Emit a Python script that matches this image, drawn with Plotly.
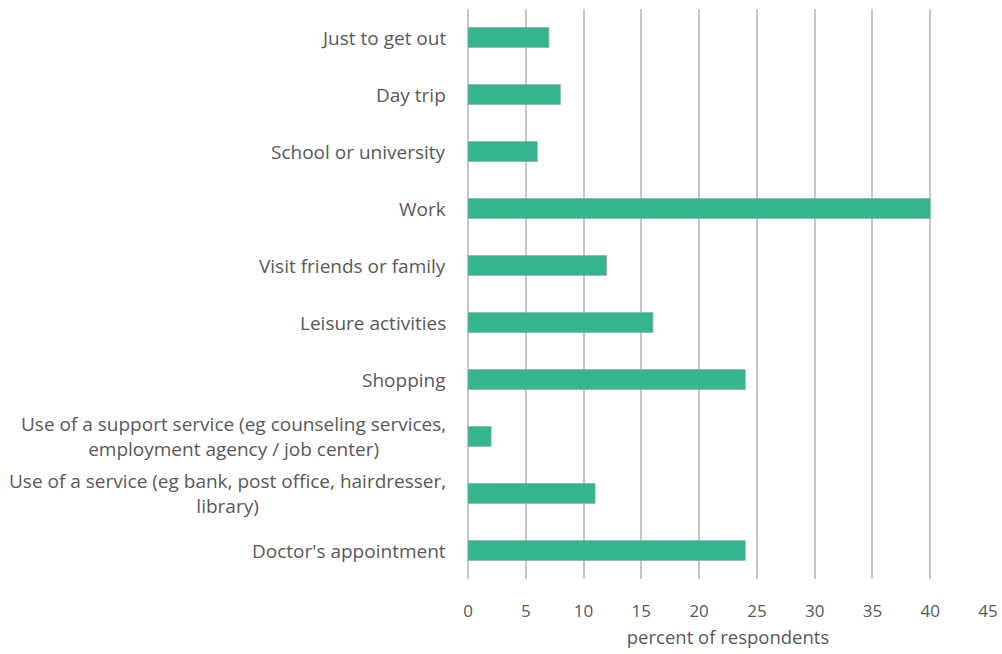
import plotly.graph_objects as go

categories = [
    "Doctor's appointment",
    "Use of a service (eg bank, post office, hairdresser,<br>library)",
    "Use of a support service (eg counseling services,<br>employment agency / job center)",
    "Shopping",
    "Leisure activities",
    "Visit friends or family",
    "Work",
    "School or university",
    "Day trip",
    "Just to get out",
]
values = [24, 11, 2, 24, 16, 12, 40, 6, 8, 7]
tick_vals = [0, 5, 10, 15, 20, 25, 30, 35, 40, 45]

font_family = "'Open Sans', sans-serif"
text_color = "#595959"

fig = go.Figure(
    go.Bar(
        x=values,
        y=categories,
        orientation="h",
        marker=dict(color="#35B490", line=dict(color="#8fa8a0", width=0.6)),
        hoverinfo="x+y",
    )
)

fig.update_layout(
    width=1002,
    height=654,
    margin=dict(l=468, r=14, t=9, b=75, autoexpand=False),
    paper_bgcolor="white",
    plot_bgcolor="white",
    bargap=0.65,
    showlegend=False,
    font=dict(family=font_family, color=text_color, size=17),
)

fig.update_xaxes(
    range=[0, 45],
    tickvals=tick_vals,
    ticktext=[str(v) for v in tick_vals],
    showgrid=True,
    gridcolor="#c6c6c6",
    gridwidth=1.5,
    zeroline=True,
    zerolinecolor="#c6c6c6",
    zerolinewidth=1.5,
    ticks="",
    ticklabelstandoff=20,
    tickfont=dict(size=17, color=text_color, family=font_family),
    title=dict(text="percent of respondents", font=dict(size=18.5, color=text_color, family=font_family), standoff=10),
    automargin=False,
    fixedrange=True,
)

fig.update_yaxes(
    showgrid=False,
    ticks="",
    showticklabels=False,
    automargin=False,
    fixedrange=True,
)

for cat in categories:
    fig.add_annotation(
        x=0, xref="paper", y=cat, yref="y",
        text=cat, showarrow=False,
        xanchor="right", yanchor="middle", xshift=-20,
        align="center",
        font=dict(size=19, color=text_color, family=font_family),
    )

fig.write_html("out.html")
